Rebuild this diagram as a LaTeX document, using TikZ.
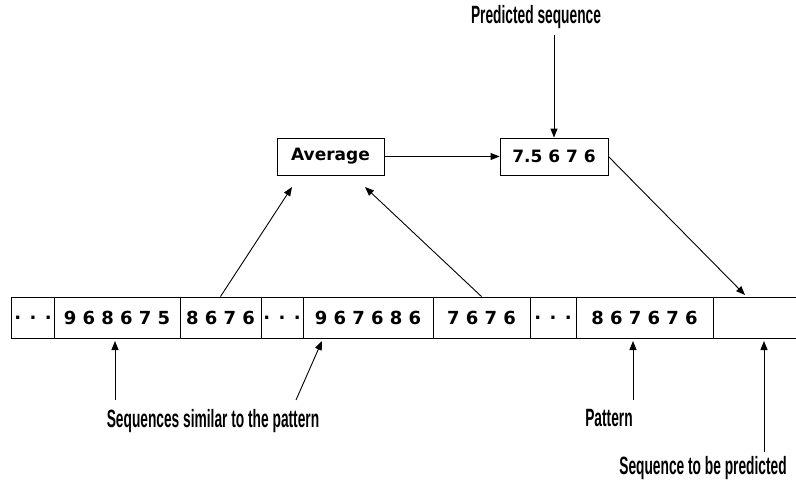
\documentclass[tikz,border=0pt]{standalone}
\usepackage{fontspec}
\setmainfont{DejaVu Sans}
\newfontfamily\lblfont{Liberation Sans}
\newcommand{\lbltext}[1]{\scalebox{0.55}[1]{\lblfont\bfseries\fontsize{25}{28}\selectfont #1}}
\usetikzlibrary{arrows.meta}
\tikzset{
  cell/.style={draw, line width=0.9pt, minimum height=41, inner sep=0, font=\fontsize{18}{20}\selectfont\bfseries},
  box/.style={draw, line width=0.9pt, minimum height=37, inner sep=0, font=\fontsize{17}{20}\selectfont\bfseries},
  lbl/.style={inner sep=0},
  arr/.style={line width=0.9pt, -{Triangle[length=9pt,width=7pt]}}
}
\begin{document}
\begin{tikzpicture}[x=1pt,y=-1pt]
\useasboundingbox (0,0) rectangle (796,487);
% cells
\node[cell, minimum width=43] (c1) at (33,317.5) {. . .};
\node[cell, minimum width=126] (c2) at (117,317.5) {9 6 8 6 7 5};
\node[cell, minimum width=81] (c3) at (220.5,317.5) {8 6 7 6};
\node[cell, minimum width=42] (c4) at (282,317.5) {. . .};
\node[cell, minimum width=130] (c5) at (368,317.5) {9 6 7 6 8 6};
\node[cell, minimum width=97] (c6) at (481.5,317.5) {7 6 7 6};
\node[cell, minimum width=46] (c7) at (553,317.5) {. . .};
\node[cell, minimum width=137] (c8) at (644.5,317.5) {8 6 7 6 7 6};
\node[cell, minimum width=100] (c9) at (763,317.5) {};
% upper boxes
\node[box, minimum width=107] (avg) at (330.5,156.5) {Average};
\node[box, minimum width=108] (pred) at (554,156.5) {7.5 6 7 6};
% labels
\node[lbl] (lp) at (536,17) {\lbltext{Predicted sequence}};
\node[lbl] (ls) at (213,421) {\lbltext{Sequences similar to the pattern}};
\node[lbl] (lpat) at (609,418) {\lbltext{Pattern}};
\node[lbl] (lsp) at (703,468) {\lbltext{Sequence to be predicted}};
% coordinates
\coordinate (lpb) at (554,35);
\coordinate (a1) at (292,187);
\coordinate (a2) at (365,187);
\coordinate (p9) at (745,295);
\coordinate (s1) at (115,400);
\coordinate (t1) at (115,341);
\coordinate (s2) at (296,400);
\coordinate (t2) at (322,341);
\coordinate (s3) at (633,400);
\coordinate (t3) at (633,341);
\coordinate (s4) at (764,452);
\coordinate (t4) at (764,341);
% arrows
\draw[arr] (lpb) -- (pred.north);
\draw[arr] (avg.east) -- (pred.west);
\draw[arr] (pred.east) -- (p9);
\draw[arr] (c3.north) -- (a1);
\draw[arr] (c6.north) -- (a2);
\draw[arr] (s1) -- (t1);
\draw[arr] (s2) -- (t2);
\draw[arr] (s3) -- (t3);
\draw[arr] (s4) -- (t4);
\end{tikzpicture}
\end{document}
